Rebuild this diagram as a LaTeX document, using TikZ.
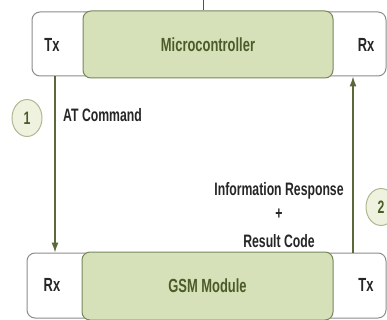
\documentclass[tikz,border=0pt]{standalone}
\usepackage{fontspec}
\usepackage{graphicx}
\setmainfont{Liberation Sans}
\usetikzlibrary{arrows.meta,shapes.geometric}
\newcommand{\narrow}[1]{\scalebox{0.68}[1]{\bfseries #1}}
\definecolor{gfill}{RGB}{214,225,186}
\definecolor{gedge}{RGB}{120,135,90}
\definecolor{gtext}{RGB}{76,92,40}
\definecolor{oedge}{RGB}{140,140,140}
\definecolor{aline}{RGB}{90,104,58}
\definecolor{cfill}{RGB}{238,242,222}
\definecolor{cedge}{RGB}{175,185,145}
\tikzset{
  outerbox/.style={draw=oedge, line width=1pt, rounded corners=8pt, fill=white, inner sep=0pt},
  greenbox/.style={draw=gedge, line width=1pt, rounded corners=8pt, fill=gfill, inner sep=0pt,
    font=\fontsize{19}{22}\selectfont, text=gtext},
  port/.style={font=\fontsize{19}{22}\selectfont, text=black!85, inner sep=0pt},
  lbl/.style={font=\fontsize{18}{21}\selectfont, text=black!85, inner sep=0pt},
  stepnum/.style={ellipse, draw=cedge, line width=1pt, fill=cfill, minimum width=30pt, minimum height=37pt,
    inner sep=0pt, font=\fontsize{18}{21}\selectfont, text=gtext},
  flow/.style={draw=aline, line width=1.2pt, -{Latex[length=10pt,width=7pt]}}
}
\begin{document}
\begin{tikzpicture}[x=1pt,y=-1pt]
\useasboundingbox (0,0) rectangle (387,320);
% top
\node[outerbox, minimum width=354pt, minimum height=64pt] (mcuout) at (209,44) {};
\node[greenbox, minimum width=250pt, minimum height=67pt] (mcu) at (208,44.5) {\narrow{Microcontroller}};
\node[port] (mtx) at (52,45) {\narrow{Tx}};
\node[port] (mrx) at (366,45) {\narrow{Rx}};
\coordinate (feed) at (203,0);
\draw[draw=gtext, line width=1pt] (feed) -- (mcu.north -| feed);
% bottom
\node[outerbox, minimum width=359pt, minimum height=65pt] (gsmout) at (206.5,285.5) {};
\node[greenbox, minimum width=251pt, minimum height=68pt] (gsm) at (207.5,286) {\narrow{GSM Module}};
\node[port] (grx) at (52,285) {\narrow{Rx}};
\node[port] (gtx) at (366,285) {\narrow{Tx}};
% connectors
\coordinate (a1) at (55,0);
\coordinate (a2) at (353,0);
\draw[flow] (mcuout.south -| a1) -- (gsmout.north -| a1);
\draw[flow] (gsmout.north -| a2) -- (mcuout.south -| a2);
% labels
\node[lbl, anchor=west] (atc) at (63,115) {\narrow{AT Command}};
\node[lbl] (info) at (279,191) {\narrow{Information Response}};
\node[lbl] (plus) at (279,214) {\narrow{+}};
\node[lbl] (res) at (279,241) {\narrow{Result Code}};
\node[stepnum] (s1) at (27,118) {\narrow{1}};
\node[stepnum] (s2) at (381,207) {\narrow{2}};
\end{tikzpicture}
\end{document}
